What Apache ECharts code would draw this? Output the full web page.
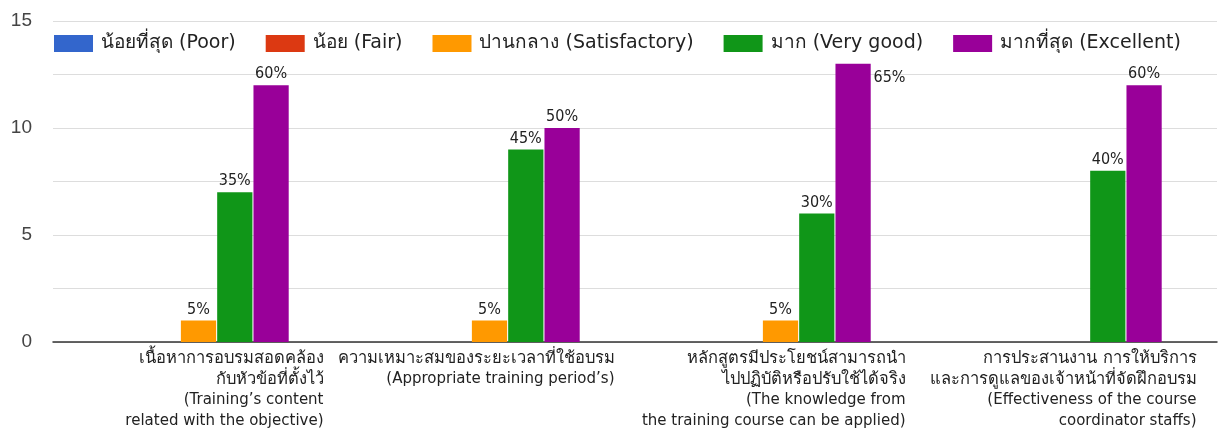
<!DOCTYPE html>
<html>
<head>
<meta charset="utf-8">
<script src="https://cdn.jsdelivr.net/npm/echarts@6/dist/echarts.min.js"></script>
<style>
  html, body { margin: 0; padding: 0; background: #fff; }
  #main { width: 1219px; height: 430px; }
</style>
</head>
<body>
<div id="main"></div>
<script>
    // data
    var categories = [
        'เนื้อหาการอบรมสอดคล้อง\nกับหัวข้อที่ตั้งไว้\n(Training’s content\nrelated with the objective)',
        'ความเหมาะสมของระยะเวลาที่ใช้อบรม\n(Appropriate training period’s)',
        'หลักสูตรมีประโยชน์สามารถนำ\nไปปฏิบัติหรือปรับใช้ได้จริง\n(The knowledge from\nthe training course can be applied)',
        'การประสานงาน การให้บริการ\nและการดูแลของเจ้าหน้าที่จัดฝึกอบรม\n(Effectiveness of the course\ncoordinator staffs)'
    ];
    var seriesNames = ['น้อยที่สุด (Poor)', 'น้อย (Fair)', 'ปานกลาง (Satisfactory)', 'มาก (Very good)', 'มากที่สุด (Excellent)'];
    var poor = [0, 0, 0, 0];
    var fair = [0, 0, 0, 0];
    var satisfactory = [1, 1, 1, 0];
    var veryGood = [7, 9, 6, 8];
    var excellent = [12, 10, 13, 12];
    var colors = ['#3366cc', '#dc3912', '#ff9900', '#109618', '#990099'];

    var allValues = [poor, fair, satisfactory, veryGood, excellent];
    var totals = categories.map(function (c, i) {
        return allValues.reduce(function (s, arr) { return s + arr[i]; }, 0);
    });

    var chartDom = document.getElementById('main');
    var myChart = echarts.init(chartDom);

    function makeSeries(name, values, color) {
        return {
            name: name,
            type: 'bar',
            barGap: '3%',
            barCategoryGap: '38%',
            itemStyle: { color: color },
            label: {
                show: true,
                position: 'top',
                distance: 3,
                color: '#222',
                fontSize: 16,
                fontFamily: 'DejaVu Sans Condensed, Noto Sans',
                formatter: function (p) {
                    if (!p.value) return '';
                    return Math.round(p.value / totals[p.dataIndex] * 100) + '%';
                }
            },
            data: values.map(function (v) {
                // the tallest bar reaches the legend, its label sits to the right
                if (v >= 13) {
                    return { value: v, label: { position: ['108%', 6] } };
                }
                return v;
            })
        };
    }

    var labelBase = { width: 250, align: 'right', lineHeight: 21, color: '#222', fontFamily: 'DejaVu Sans, Noto Sans' };

    var option = {
        animation: false,
        color: colors,
        legend: {
            left: 49,
            top: 29,
            itemWidth: 39,
            itemHeight: 17,
            itemGap: 30,
            icon: 'rect',
            textStyle: {
                fontSize: 19,
                color: '#222',
                fontFamily: 'DejaVu Sans, Noto Sans',
                padding: [0, 0, 0, 3]
            },
            data: seriesNames
        },
        grid: {
            left: 53,
            right: 2,
            top: 21,
            bottom: 88
        },
        xAxis: {
            type: 'category',
            data: categories,
            axisTick: { show: false },
            axisLine: { lineStyle: { color: '#333', width: 1.5 } },
            axisLabel: {
                interval: 0,
                margin: 6,
                formatter: function (v) {
                    return v.split('\n').map(function (l) {
                        var style = /[\u0E00-\u0E7F]/.test(l) ? 't' : 'e';
                        return '{' + style + '|' + l + '}';
                    }).join('\n');
                },
                rich: {
                    e: Object.assign({ fontSize: 15 }, labelBase),
                    t: Object.assign({ fontSize: 16.5 }, labelBase)
                }
            }
        },
        yAxis: {
            type: 'value',
            min: 0,
            max: 15,
            interval: 2.5,
            axisLine: { show: false },
            axisTick: { show: false },
            splitLine: { lineStyle: { color: '#dddddd' } },
            axisLabel: {
                margin: 21,
                fontSize: 19,
                color: '#444',
                fontFamily: 'Liberation Sans, Arial',
                formatter: function (v) { return v % 5 === 0 ? String(v) : ''; }
            }
        },
        series: [
            makeSeries(seriesNames[0], poor, colors[0]),
            makeSeries(seriesNames[1], fair, colors[1]),
            makeSeries(seriesNames[2], satisfactory, colors[2]),
            makeSeries(seriesNames[3], veryGood, colors[3]),
            makeSeries(seriesNames[4], excellent, colors[4])
        ]
    };

    myChart.setOption(option);
</script>
</body>
</html>
